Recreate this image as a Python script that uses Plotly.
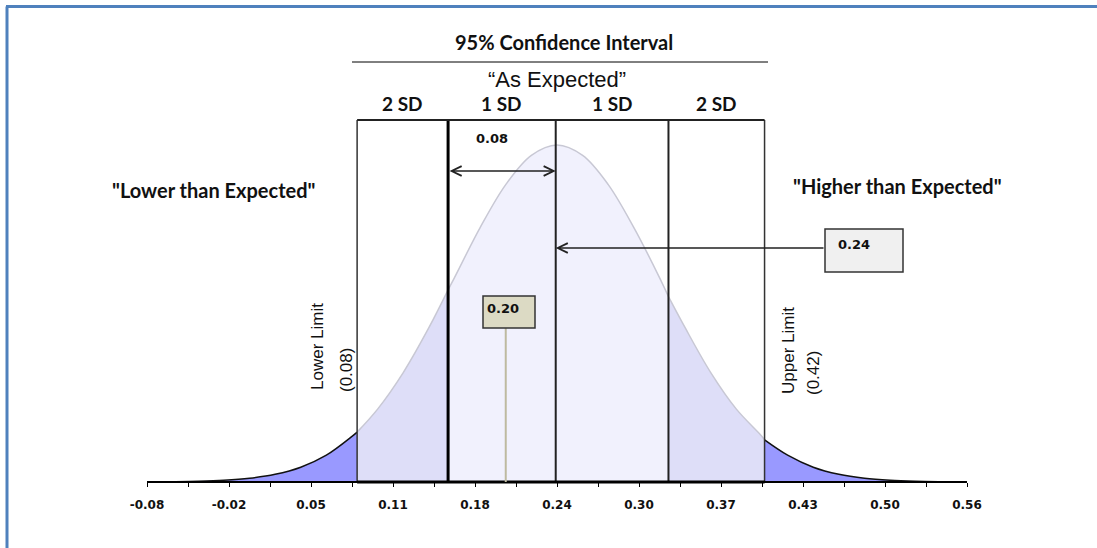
import plotly.graph_objects as go

# ---------------- data ----------------
curve_x = [-0.08, -0.06, -0.04, -0.02, 0.00, 0.02, 0.04, 0.06, 0.08, 0.10, 0.12,
           0.14, 0.16, 0.18, 0.20, 0.22, 0.24, 0.26, 0.28, 0.30, 0.32, 0.34,
           0.36, 0.38, 0.40, 0.42, 0.44, 0.46, 0.48, 0.50, 0.52, 0.54, 0.56]
curve_y = [0.0003, 0.0009, 0.0022, 0.0051, 0.0111, 0.0228, 0.0439, 0.0796, 0.1353,
           0.2163, 0.3247, 0.4578, 0.6065, 0.7548, 0.8825, 0.9692, 1.0, 0.9692,
           0.8825, 0.7548, 0.6065, 0.4578, 0.3247, 0.2163, 0.1353, 0.0796, 0.0439,
           0.0228, 0.0111, 0.0051, 0.0022, 0.0009, 0.0003]
tick_vals = [-0.08, -0.016, 0.048, 0.112, 0.176, 0.24, 0.304, 0.368, 0.432, 0.496, 0.56]
tick_text = ["-0.08", "-0.02", "0.05", "0.11", "0.18", "0.24", "0.30", "0.37", "0.43", "0.50", "0.56"]
minor_vals = [-0.048, 0.016, 0.08, 0.144, 0.208, 0.272, 0.336, 0.40, 0.464, 0.528]
# band boundaries as drawn in the picture, and the curve height read at each
band_edges = [0.084, 0.155, 0.239, 0.327, 0.402]
edge_heights = [0.148, 0.57, 1.0, 0.55, 0.125]
band_labels = ["2 SD", "1 SD", "1 SD", "2 SD"]
mean_value = 0.24
sd_value = 0.08
observed_value = 0.20
lower_label = ["Lower Limit", "(0.08)"]
upper_label = ["Upper Limit", "(0.42)"]

# ---------------- layout helpers (pixel -> axis units) ----------------
W, H = 1097, 548
AX_PX0, AX_V0, PX_PER_UNIT = 147, -0.08, 82 / 0.064
BASE_PY, PEAK_PX = 482, 337


def X(px):
    return AX_V0 + (px - AX_PX0) / PX_PER_UNIT


def Y(py):
    return (BASE_PY - py) / PEAK_PX


CAL = "Lato"
VER = "DejaVu Sans"
ARI = "Liberation Sans"

fig = go.Figure()

# ---------------- curve segments ----------------
TAIL, MID2, MID1 = "#9999FF", "#DEDEF8", "#F1F1FD"
seg_defs = [
    ((curve_x[0], curve_y[0]), (band_edges[0], edge_heights[0]), TAIL, "#111111"),
    ((band_edges[0], edge_heights[0]), (band_edges[1], edge_heights[1]), MID2, "#C8C8D4"),
    ((band_edges[1], edge_heights[1]), (band_edges[3], edge_heights[3]), MID1, "#C8C8D4"),
    ((band_edges[3], edge_heights[3]), (band_edges[4], edge_heights[4]), MID2, "#C8C8D4"),
    ((band_edges[4], edge_heights[4]), (curve_x[-1], curve_y[-1]), TAIL, "#111111"),
]
for (a, ha), (b, hb), fillc, linec in seg_defs:
    inner = [(x, y) for x, y in zip(curve_x, curve_y) if a + 1e-9 < x < b - 1e-9]
    xs = [a] + [p[0] for p in inner] + [b]
    ys = [ha] + [p[1] for p in inner] + [hb]
    fig.add_trace(go.Scatter(x=xs, y=ys, mode="lines", fill="tozeroy",
                             fillcolor=fillc, line=dict(color=linec, width=1.5, shape="spline"),
                             hoverinfo="skip", showlegend=False))

shapes = []
box_top = Y(120)
# vertical band lines
widths = [1.5, 3, 2, 2, 1.5]
colors = ["#333333", "#000000", "#222222", "#222222", "#333333"]
for e, w, c in zip(band_edges, widths, colors):
    shapes.append(dict(type="line", xref="x", yref="y", x0=e, x1=e, y0=0, y1=box_top,
                       line=dict(color=c, width=w)))
shapes.append(dict(type="line", xref="x", yref="y", x0=band_edges[0], x1=band_edges[-1],
                   y0=box_top, y1=box_top, line=dict(color="#222222", width=2)))
# axis baseline
shapes.append(dict(type="line", xref="x", yref="y", x0=tick_vals[0], x1=tick_vals[-1],
                   y0=0, y1=0, line=dict(color="#000000", width=2)))
shapes.append(dict(type="line", xref="x", yref="y", x0=band_edges[0], x1=band_edges[-1],
                   y0=0, y1=0, line=dict(color="#000000", width=3)))
# 95% CI line
shapes.append(dict(type="line", xref="x", yref="y", x0=X(352), x1=X(768),
                   y0=Y(62), y1=Y(62), line=dict(color="#000000", width=1)))
# observed value stem and box
shapes.append(dict(type="line", xref="x", yref="y", x0=observed_value, x1=observed_value,
                   y0=0, y1=Y(328), line=dict(color="#BEBAA0", width=2)))
shapes.append(dict(type="rect", xref="x", yref="y", x0=X(483), x1=X(535), y0=Y(328), y1=Y(296),
                   fillcolor="#DCDAC4", line=dict(color="#333333", width=1.5)))
# mean box
shapes.append(dict(type="rect", xref="x", yref="y", x0=X(825), x1=X(903), y0=Y(272), y1=Y(229),
                   fillcolor="#F0F0F0", line=dict(color="#333333", width=1.5)))
# frame
shapes.append(dict(type="line", xref="paper", yref="paper", x0=6 / W, x1=1, y0=1 - 6.5 / H,
                   y1=1 - 6.5 / H, line=dict(color="#4F81BD", width=3)))
shapes.append(dict(type="line", xref="paper", yref="paper", x0=7 / W, x1=7 / W, y0=0,
                   y1=1 - 6.5 / H, line=dict(color="#4F81BD", width=3)))

ann = []


def txt(x, y, s, size, fam, bold=False, angle=0, color="#111111"):
    ann.append(dict(x=x, y=y, xref="x", yref="y", text=(f"<b>{s}</b>" if bold else s),
                    showarrow=False, textangle=angle, xanchor="center", yanchor="middle",
                    font=dict(family=fam, size=size, color=color)))


txt(X(564), Y(42), "95% Confidence Interval", 20, CAL, True)
txt(X(557), Y(79), "\u201cAs Expected\u201d", 22, ARI)
for i, lab in enumerate(band_labels):
    txt((band_edges[i] + band_edges[i + 1]) / 2, Y(103), lab, 19, CAL, True)
txt(X(492), Y(138), f"{sd_value:.2f}", 13, VER, True)
txt(X(214), Y(190), "\"Lower than Expected\"", 20, CAL, True)
txt(X(897), Y(186), "\"Higher than Expected\"", 20, CAL, True)
txt(X(854), Y(244), f"{mean_value:.2f}", 13, VER, True)
txt(X(503), Y(308), f"{observed_value:.2f}", 13, VER, True)
txt(X(317), Y(347), lower_label[0], 17, ARI, angle=-90)
txt(X(346), Y(370), lower_label[1], 17, ARI, angle=-90)
txt(X(788), Y(351), upper_label[0], 17, ARI, angle=-90)
txt(X(813), Y(373), upper_label[1], 17, ARI, angle=-90)

# double arrow (1 SD width)
ann.append(dict(x=band_edges[2], y=Y(171), ax=band_edges[1], ay=Y(171), xref="x", yref="y",
                axref="x", ayref="y", text="", showarrow=True, arrowhead=5, startarrowhead=5,
                arrowside="end+start", arrowwidth=1.3, arrowsize=1.5, startarrowsize=1.5,
                arrowcolor="#222222", standoff=0, startstandoff=0))
# arrow from mean box to mean line
ann.append(dict(x=band_edges[2], y=Y(248), ax=X(825), ay=Y(248), xref="x", yref="y",
                axref="x", ayref="y", text="", showarrow=True, arrowhead=5,
                arrowwidth=1.3, arrowsize=1.5, arrowcolor="#222222", standoff=0))

fig.update_layout(
    template="none",
    width=W, height=H,
    margin=dict(l=0, r=0, t=0, b=0),
    paper_bgcolor="white", plot_bgcolor="white",
    showlegend=False,
    shapes=shapes,
    annotations=ann,
    xaxis=dict(range=[X(0), X(W)], showgrid=False, zeroline=False, showline=False,
               anchor="free", position=(H - BASE_PY) / H,
               tickmode="array", tickvals=tick_vals,
               ticktext=[f"<b>{t}</b>" for t in tick_text],
               ticks="outside", ticklen=4, tickwidth=1, tickcolor="#000000",
               ticklabelstandoff=8,
               tickfont=dict(family=VER, size=12, color="#111111"),
               minor=dict(tickvals=minor_vals, ticks="outside", ticklen=4, tickwidth=1,
                          tickcolor="#000000", showgrid=False),
               automargin=False, fixedrange=True),
    yaxis=dict(range=[Y(H), Y(0)], visible=False, showgrid=False, zeroline=False,
               automargin=False, fixedrange=True),
)

fig.write_html("out.html", config={"displayModeBar": False},
               post_script="document.body.style.margin='0';document.body.style.overflow='hidden';")
